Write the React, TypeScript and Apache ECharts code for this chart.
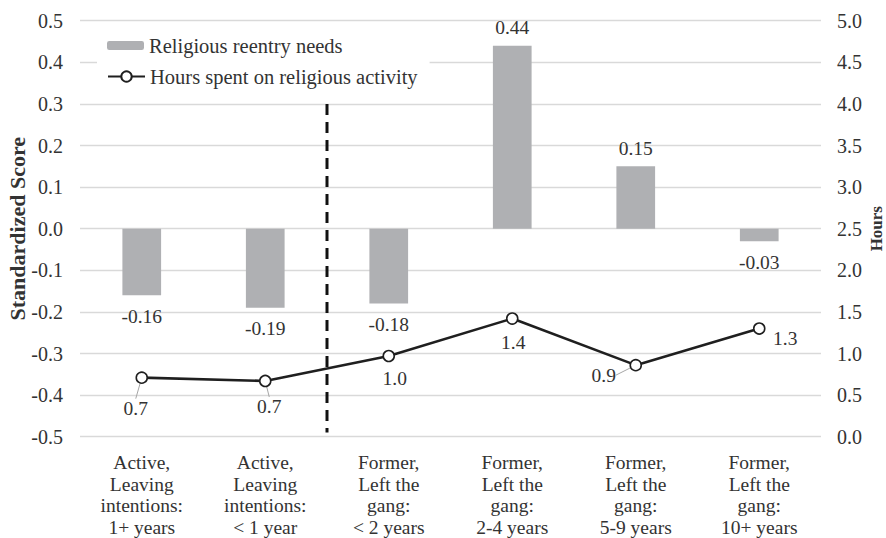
import React, { useEffect, useRef } from "react";
import * as echarts from "echarts";

// Group labels along the bottom axis
const categories = [
  "Active,\nLeaving\nintentions:\n1+ years",
  "Active,\nLeaving\nintentions:\n< 1 year",
  "Former,\nLeft the\ngang:\n< 2 years",
  "Former,\nLeft the\ngang:\n2-4 years",
  "Former,\nLeft the\ngang:\n5-9 years",
  "Former,\nLeft the\ngang:\n10+ years",
];

// Standardized score of religious reentry needs (left axis)
const reentryNeeds = [-0.16, -0.19, -0.18, 0.44, 0.15, -0.03];

// Mean hours spent on religious activity (right axis)
const religiousHours = [0.71, 0.67, 0.97, 1.42, 0.86, 1.3];

// Axis ranges
const scoreAxis = { min: -0.5, max: 0.5, step: 0.1 };
const hoursAxis = { min: 0, max: 5, step: 0.5 };

// Divider between active and former members, spanning part of the score range
const dividerAt = 2;
const dividerSpan = [0.3, -0.49];

const seriesNames = ["Religious reentry needs", "Hours spent on religious activity"];

// Label nudges for the hours line (pixels from the marker centre)
const hourLabelOffsets = [
  [-6, 31],
  [4, 26],
  [6, 23],
  [1, 24],
  [-32, 10],
  [26, 10],
];
const hourLabelGuides = [true, true, false, false, true, false];

const FONT = "Liberation Serif";
const TEXT = "#333333";

export default function App() {
  const ref = useRef<HTMLDivElement>(null);

  useEffect(() => {
    if (!ref.current) return;
    const chart = echarts.init(ref.current, undefined, { renderer: "svg" });

    const option: any = {
      animation: false,
      backgroundColor: "#ffffff",
      textStyle: { fontFamily: FONT, color: TEXT },
      grid: {
        left: 80,
        right: 65,
        top: 20.7,
        bottom: 101.3,
        containLabel: false,
        outerBoundsMode: "none",
      },
      legend: [
        {
          data: [seriesNames[0]],
          left: 97,
          top: 34,
          padding: [1, 12, 0, 10],
          itemWidth: 37,
          itemHeight: 9,
          backgroundColor: "#ffffff",
          textStyle: { fontFamily: FONT, fontSize: 20.5, color: TEXT },
          selectedMode: false,
        },
        {
          data: [seriesNames[1]],
          left: 97,
          top: 58,
          padding: [8, 12, 2, 10],
          itemWidth: 37,
          itemHeight: 13,
          backgroundColor: "#ffffff",
          textStyle: { fontFamily: FONT, fontSize: 20.5, color: TEXT },
          selectedMode: false,
        },
      ],
      xAxis: [
        {
          type: "category",
          data: categories,
          axisLine: { show: false },
          axisTick: { show: false },
          axisLabel: {
            interval: 0,
            margin: 15,
            fontFamily: FONT,
            fontSize: 19.5,
            lineHeight: 21.7,
            color: TEXT,
            align: "center",
          },
        },
        {
          type: "value",
          min: 0,
          max: categories.length,
          show: false,
        },
      ],
      yAxis: [
        {
          type: "value",
          min: scoreAxis.min,
          max: scoreAxis.max,
          interval: scoreAxis.step,
          name: "Standardized Score",
          nameLocation: "middle",
          nameGap: 52,
          nameMoveOverlap: false,
          nameTextStyle: { fontFamily: FONT, fontWeight: "bold", fontSize: 22, color: TEXT },
          axisLine: { show: false },
          axisTick: { show: false },
          splitLine: { lineStyle: { color: "#d9d9d9", width: 1.3 } },
          axisLabel: {
            margin: 17,
            fontFamily: FONT,
            fontSize: 20,
            color: TEXT,
            formatter: (v: number) => v.toFixed(1),
          },
        },
        {
          type: "value",
          min: hoursAxis.min,
          max: hoursAxis.max,
          interval: hoursAxis.step,
          position: "right",
          name: "Hours",
          nameLocation: "middle",
          nameGap: 47,
          nameMoveOverlap: false,
          nameTextStyle: { fontFamily: FONT, fontWeight: "bold", fontSize: 17, color: TEXT },
          axisLine: { show: false },
          axisTick: { show: false },
          splitLine: { show: false },
          axisLabel: {
            margin: 16,
            fontFamily: FONT,
            fontSize: 20,
            color: TEXT,
            formatter: (v: number) => v.toFixed(1),
          },
        },
      ],
      series: [
        {
          name: seriesNames[0],
          type: "bar",
          xAxisIndex: 0,
          yAxisIndex: 0,
          barWidth: 38.7,
          itemStyle: { color: "#afb0b3" },
          data: reentryNeeds.map((v) => ({
            value: v,
            label: {
              show: true,
              position: v < 0 ? "bottom" : "top",
              distance: v < 0 ? 11 : 8,
            },
          })),
          label: {
            fontFamily: FONT,
            fontSize: 19.5,
            color: TEXT,
            formatter: (p: any) => Number(p.value).toFixed(2),
          },
          z: 2,
        },
        {
          name: seriesNames[1],
          type: "line",
          xAxisIndex: 0,
          yAxisIndex: 1,
          symbol: "circle",
          symbolSize: 11,
          lineStyle: { color: "#1f1f1f", width: 2.6 },
          itemStyle: { color: "#ffffff", borderColor: "#1f1f1f", borderWidth: 1.6 },
          data: religiousHours.map((v, i) => ({
            value: v,
            labelLine: {
              show: hourLabelGuides[i],
              lineStyle: { color: "#a6a6a6", width: 1 },
            },
          })),
          label: {
            show: true,
            position: "inside",
            fontFamily: FONT,
            fontSize: 19.5,
            color: TEXT,
            formatter: (p: any) => Number(p.value).toFixed(1),
          },
          labelLayout: (p: any) => ({
            dx: hourLabelOffsets[p.dataIndex][0],
            dy: hourLabelOffsets[p.dataIndex][1],
          }),
          z: 4,
        },
        {
          name: "divider",
          type: "line",
          xAxisIndex: 1,
          yAxisIndex: 0,
          silent: true,
          symbol: "none",
          lineStyle: { color: "#111111", width: 3, type: [11, 7] },
          data: dividerSpan.map((y) => [dividerAt, y]),
          z: 3,
        },
      ],
    };

    chart.setOption(option);
    return () => chart.dispose();
  }, []);

  return (
    <div
      ref={ref}
      style={{ position: "fixed", left: 0, top: 0, width: 886, height: 538, background: "#fff" }}
    />
  );
}
